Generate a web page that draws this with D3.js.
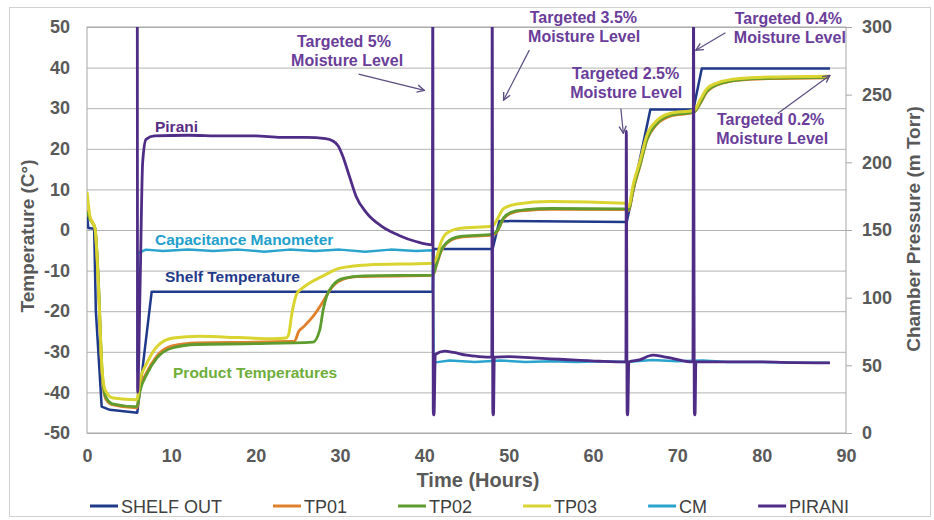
<!DOCTYPE html>
<html>
<head>
<meta charset="utf-8">
<script src="https://cdn.jsdelivr.net/npm/d3@7"></script>
<style>
  body { margin: 0; background: #fff; }
  svg { display: block; font-family: "Liberation Sans", Arial, sans-serif; }
</style>
</head>
<body>
<svg id="chart"></svg>
<script>
/* global d3 */

// temperatures: [hours, °C]
const shelfOut = [
  [0, 3.7], [0.15, 0.5], [0.85, 0.3], [1.05, -20], [1.74, -43.5], [2.7, -44.3],
  [5.96, -45], [7.67, -15.2], [41.0, -15.2], [41.1, -4.7], [48.1, -4.7], [48.9, 2.2],
  [64.0, 2.0], [66.8, 29.7], [71.9, 29.7], [72.9, 39.8], [88.1, 39.8],
];
const tp01 = [
  [0, 5], [0.4, 2.8], [0.95, 0.4], [1.3, -11], [1.8, -36], [2.2, -41.5], [3.0, -43],
  [5.9, -43.8], [6.3, -39], [7.1, -35], [8.3, -31], [10.2, -28.5], [13, -27.8], [20, -27.6],
  [24.6, -27.4], [25.1, -25], [25.7, -23.8], [26.8, -21.3], [28, -17.6], [28.8, -14.8],
  [29.8, -12.7], [32, -11.5], [41.0, -11.2], [41.5, -8.2], [42, -5.2], [42.6, -3.4],
  [44.2, -1.8], [48.1, -1.2], [48.6, -0.5], [49.4, 2.8], [50.5, 4.3], [52, 4.8], [55, 5.1],
  [63.8, 5.0], [64.2, 4.8], [64.8, 10.2], [65.6, 16], [66.4, 22.2], [67.6, 26.1], [69.1, 28],
  [72, 29], [72.7, 31.1], [73.5, 34], [74.7, 35.7], [77.4, 36.9], [81.4, 37.3], [87.9, 37.5],
];
const tp02 = [
  [0, 4.5], [0.4, 2.5], [0.95, 0.4], [1.3, -10], [1.8, -35], [2.2, -41], [3.0, -42.8],
  [5.9, -43.5], [6.3, -39.5], [7.1, -35.5], [8.3, -31.5], [10.2, -29], [13, -28.2], [20, -28],
  [26.8, -27.6], [27.6, -24.6], [28, -19.7], [28.4, -16.4], [29.2, -13.5], [30.4, -11.9],
  [32.8, -11.3], [41.0, -11.1], [41.5, -8], [42, -5], [42.6, -3.2], [44.2, -1.6], [48.1, -1.0],
  [48.6, -0.3], [49.4, 3], [50.5, 4.5], [52, 5], [55, 5.3], [63.8, 5.2], [64.2, 5.0],
  [64.8, 10.5], [65.6, 16.2], [66.4, 22.4], [67.6, 26.3], [69.1, 28.2], [72, 29.1],
  [72.7, 31.3], [73.5, 34.2], [74.7, 35.8], [77.4, 37.0], [81.4, 37.4], [87.9, 37.6],
];
const tp03 = [
  [0, 9.4], [0.36, 3.3], [0.95, 0.4], [1.34, -13], [1.74, -32.7], [2.13, -39.3], [3.1, -41.4],
  [5.9, -41.8], [6.3, -36.9], [7.1, -32.8], [8.3, -28.7], [10.2, -26.6], [13.4, -26.2],
  [18, -26.5], [22, -26.8], [23.6, -26.6], [23.9, -25.8], [24.3, -20.5], [24.9, -15.6],
  [25.5, -14.4], [28, -11.3], [30, -9.4], [33.2, -8.6], [41.0, -8.2], [41.5, -6.5],
  [41.9, -3.5], [42.6, -0.9], [44.2, 0.4], [48.1, 1.0], [48.6, 2.5], [49.4, 5.3], [51, 6.4],
  [54.9, 7.0], [63.8, 6.6], [64.2, 5.7], [64.8, 11.5], [65.6, 17.2], [66.4, 23.4], [67.6, 27],
  [69.1, 28.7], [72, 29.5], [72.7, 32], [73.5, 34.8], [74.7, 36.2], [77.4, 37.3], [81.4, 37.7],
  [87.9, 37.9],
];

// chamber pressure: [hours, mTorr]
const cm = [
  [5.96, 45], [6.05, 133], [7, 135.5], [9, 134.5], [12, 135.5], [15, 134.5], [18, 135.5],
  [21, 134], [24, 135.5], [27, 134.5], [30, 135.5], [33, 134], [36, 135.5], [39, 134.5],
  [41.0, 135], [41.1, 52], [43, 53.5], [46, 52.5], [49, 53.5], [52, 52.5], [55, 53], [58, 52.5],
  [61, 53], [64, 52.5], [67, 54], [70, 53], [73, 53.5], [76, 52.5], [80, 52.5], [84, 52], [88, 52],
];
const pirani = [
  [5.9, 320], [5.96, 320], [6.0, 30], [6.3, 110], [6.6, 200], [7.0, 217], [8, 219.5],
  [12, 220], [16, 219.5], [20, 219.5], [23, 218.5], [26, 218.5], [28.3, 217.5], [29.1, 216],
  [29.8, 212], [30.3, 205], [31.1, 190], [31.9, 175], [33.1, 163], [35, 152.5], [37, 146],
  [39, 141.5], [40.95, 139], [41.0, 320], [41.06, 13.5], [41.15, 13.5], [41.3, 58],
  [42.4, 60.5], [43.5, 59.5], [45, 57.5], [46.5, 56.5], [48.0, 56], [48.05, 320],
  [48.12, 13.5], [48.2, 13.5], [48.3, 56], [50, 56.5], [52.9, 55.5], [56, 54.5], [60.8, 53],
  [63.9, 52.5], [63.95, 223], [64.05, 13.5], [64.12, 13.5], [64.25, 52.5], [65.5, 54],
  [67.1, 57.5], [68.3, 56.5], [69.5, 55], [71.85, 52.5], [71.92, 320], [72.02, 13.5],
  [72.1, 13.5], [72.2, 52.5], [76, 52.5], [80, 52.5], [84, 52], [88.1, 51.8],
];

const hourTicks = [0, 10, 20, 30, 40, 50, 60, 70, 80, 90];
const tempTicks = [-50, -40, -30, -20, -10, 0, 10, 20, 30, 40, 50];
const pressureTicks = [0, 50, 100, 150, 200, 250, 300];

const seriesNames = ["SHELF OUT", "TP01", "TP02", "TP03", "CM", "PIRANI"];
const seriesColors = ["#1f3a8a", "#e0802c", "#5e9c2f", "#d9d430", "#2aa3cd", "#4f2d86"];

// labels drawn inside the plot, in data coordinates (hours, °C)
const seriesLabels = [
  { text: "Pirani", t: 8.06, v: 24.1, color: "#5a2d84" },
  { text: "Capacitance Manometer", t: 8.06, v: -3.7, color: "#23a0cb" },
  { text: "Shelf Temperature", t: 9.25, v: -12.7, color: "#1f3a8a" },
  { text: "Product Temperatures", t: 10.2, v: -36.5, color: "#6fae3c" },
];
const moistureNotes = [
  { lines: ["Targeted 5%", "Moisture Level"], t: [24.9, 24.2], v: 45.0, from: [32.2, 38.4], to: [40.0, 34.4] },
  { lines: ["Targeted 3.5%", "Moisture Level"], t: [52.5, 52.3], v: 51.1, from: [52.45, 44.3], to: [49.4, 32.0] },
  { lines: ["Targeted 2.5%", "Moisture Level"], t: [57.5, 57.3], v: 37.1, from: [63.3, 29.9], to: [63.6, 23.8] },
  { lines: ["Targeted 0.4%", "Moisture Level"], t: [76.8, 76.7], v: 50.65, from: [75.7, 48.6], to: [72.2, 44.3] },
  { lines: ["Targeted 0.2%", "Moisture Level"], t: [74.7, 74.6], v: 25.8, from: [81.9, 28.7], to: [88.1, 38.1] },
];

//-------------------------------------------------

const WIDTH = 934;
const HEIGHT = 520;
const margin = { top: 27, right: 88, bottom: 87, left: 87 };
const width = WIDTH - margin.left - margin.right;
const height = HEIGHT - margin.top - margin.bottom;

const GRID = "#b2b2b2";
const AXIS_TEXT = "#595959";
const NOTE = "#6a3d9a";

const x = d3.scaleLinear().domain([0, 90]).range([0, width]);
const yTemp = d3.scaleLinear().domain([-50, 50]).range([height, 0]);
const yPres = d3.scaleLinear().domain([0, 300]).range([height, 0]);

const root = d3.select("#chart")
  .attr("width", WIDTH)
  .attr("height", HEIGHT);

// outer frame
root.append("rect")
  .attr("x", 9.5).attr("y", 7.5)
  .attr("width", WIDTH - 13).attr("height", HEIGHT - 11)
  .attr("fill", "none")
  .attr("stroke", "#d0d0d0");

const svg = root.append("g")
  .attr("transform", `translate(${margin.left},${margin.top})`);

svg.append("defs").append("clipPath")
  .attr("id", "plot-clip")
  .append("rect")
  .attr("width", width)
  .attr("height", height);

// horizontal gridlines
svg.append("g")
  .call(d3.axisLeft(yTemp).tickValues(tempTicks).tickSize(-width).tickFormat(""))
  .call(g => g.select(".domain").remove())
  .call(g => g.selectAll("line").attr("stroke", GRID));

svg.append("rect")
  .attr("width", width)
  .attr("height", height)
  .attr("fill", "none")
  .attr("stroke", "#a6a6a6");

const styleAxis = g => {
  g.select(".domain").remove();
  g.selectAll("line").attr("stroke", "#a6a6a6");
  g.selectAll("text")
    .attr("fill", AXIS_TEXT)
    .attr("font-size", 18)
    .attr("font-weight", "bold")
    .attr("font-family", '"Liberation Sans", Arial, sans-serif');
};
const plain = d => String(d);

svg.append("g")
  .attr("class", "axis y-axis")
  .call(d3.axisLeft(yTemp).tickValues(tempTicks).tickFormat(plain).tickSize(0).tickPadding(17))
  .call(styleAxis);

svg.append("g")
  .attr("class", "axis y2-axis")
  .attr("transform", `translate(${width},0)`)
  .call(d3.axisRight(yPres).tickValues(pressureTicks).tickFormat(plain)
    .tickSizeInner(6).tickSizeOuter(0).tickPadding(10))
  .call(styleAxis);

svg.append("g")
  .attr("class", "axis x-axis")
  .attr("transform", `translate(0,${height})`)
  .call(d3.axisBottom(x).tickValues(hourTicks).tickFormat(plain).tickSize(0).tickPadding(16))
  .call(styleAxis);

// axis titles
const title = (sel) => sel
  .attr("fill", AXIS_TEXT)
  .attr("font-size", 19)
  .attr("font-weight", "bold")
  .attr("text-anchor", "middle");

root.append("text")
  .attr("transform", "translate(34,236) rotate(-90)")
  .call(title)
  .text("Temperature (C°)");

root.append("text")
  .attr("transform", "translate(920,229) rotate(-90)")
  .call(title)
  .text("Chamber Pressure (m Torr)");

root.append("text")
  .attr("x", 478)
  .attr("y", 487)
  .call(title)
  .attr("font-size", 20)
  .text("Time (Hours)");

// series
const series = [
  { values: shelfOut, y: yTemp, width: 2.5, curve: d3.curveLinear },
  { values: tp01, y: yTemp, width: 2.8, curve: d3.curveMonotoneX },
  { values: tp02, y: yTemp, width: 2.8, curve: d3.curveMonotoneX },
  { values: tp03, y: yTemp, width: 3, curve: d3.curveMonotoneX },
  { values: cm, y: yPres, width: 2.5, curve: d3.curveLinear },
  { values: pirani, y: yPres, width: 2.8, curve: d3.curveMonotoneX },
].map((s, i) => ({ ...s, name: seriesNames[i], color: seriesColors[i] }));

const plot = svg.append("g").attr("clip-path", "url(#plot-clip)");

series.forEach((s) => {
  const line = d3.line()
    .curve(s.curve)
    .x(d => x(d[0]))
    .y(d => s.y(d[1]));
  plot.append("path")
    .datum(s.values)
    .attr("fill", "none")
    .attr("stroke", s.color)
    .attr("stroke-width", s.width)
    .attr("stroke-linejoin", "round")
    .attr("d", line);
});

// in-plot labels
svg.selectAll(".series-label")
  .data(seriesLabels)
  .enter()
  .append("text")
  .attr("class", "series-label")
  .attr("x", d => x(d.t))
  .attr("y", d => yTemp(d.v))
  .attr("fill", d => d.color)
  .attr("font-size", 15.5)
  .attr("font-weight", "bold")
  .text(d => d.text);

// moisture annotations
svg.select("defs").append("marker")
  .attr("id", "arrow")
  .attr("viewBox", "0 0 10 10")
  .attr("refX", 9).attr("refY", 5)
  .attr("markerWidth", 9).attr("markerHeight", 9)
  .attr("markerUnits", "userSpaceOnUse")
  .attr("orient", "auto")
  .append("path")
  .attr("d", "M1,1 L9,5 L1,9")
  .attr("fill", "none")
  .attr("stroke", "#5b4d80")
  .attr("stroke-width", 1.5);

moistureNotes.forEach((n) => {
  n.lines.forEach((line, i) => {
    svg.append("text")
      .attr("x", x(n.t[i]))
      .attr("y", yTemp(n.v) + i * 19)
      .attr("fill", NOTE)
      .attr("font-size", 16)
      .attr("font-weight", "bold")
      .text(line);
  });
  svg.append("line")
    .attr("x1", x(n.from[0])).attr("y1", yTemp(n.from[1]))
    .attr("x2", x(n.to[0])).attr("y2", yTemp(n.to[1]))
    .attr("stroke", "#5b4d80")
    .attr("stroke-width", 1.2)
    .attr("marker-end", "url(#arrow)");
});

// legend
const legend = root.append("g")
  .attr("transform", "translate(90,506)");

let lx = 0;
series.forEach((s) => {
  const item = legend.append("g").attr("transform", `translate(${lx},0)`);
  item.append("line")
    .attr("x1", 0).attr("x2", 28)
    .attr("stroke", s.color)
    .attr("stroke-width", 3);
  const label = item.append("text")
    .attr("x", 31)
    .attr("y", 7)
    .attr("fill", "#404040")
    .attr("font-size", 18)
    .text(s.name);
  lx += 31 + label.node().getComputedTextLength() + 51;
});
</script>
</body>
</html>
